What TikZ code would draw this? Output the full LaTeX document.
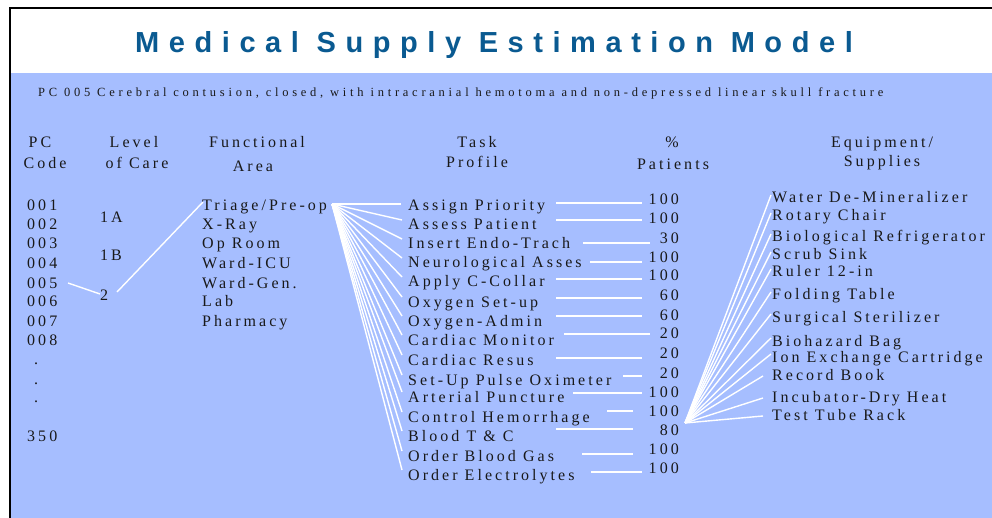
\documentclass[tikz,border=0pt]{standalone}
\usepackage{fontspec}
\setmainfont{Liberation Serif}
\newfontfamily\bodyfont[LetterSpace=19]{Liberation Serif}
\newfontfamily\subfont[LetterSpace=30]{Liberation Serif}
\newfontfamily\titlefont[LetterSpace=33]{Liberation Sans}
\definecolor{bgblue}{RGB}{166,190,255}
\definecolor{titleblue}{RGB}{10,90,145}
\definecolor{ink}{RGB}{25,25,25}
\begin{document}
\begin{tikzpicture}[x=1pt,y=-1pt,
  txt/.style={inner sep=0pt, font=\bodyfont\fontsize{16}{16}\selectfont, text=ink},
  lft/.style={txt, anchor=base west},
  ctr/.style={txt, anchor=base},
  rgt/.style={txt, anchor=base east},
  wire/.style={draw=white, line width=1.4pt}]
\useasboundingbox (0,0) rectangle (992,518);
\fill[white] (0,0) rectangle (992,518);
\fill[bgblue] (10,73) rectangle (992,518);
\draw[black, line width=2pt] (10,518) -- (10,8) -- (992,8);

% title and subtitle
\node[inner sep=0pt, anchor=base, text=titleblue, font=\titlefont\bfseries\fontsize{29}{29}\selectfont] (title) at (494,53) {Medical Supply Estimation Model};
\node[inner sep=0pt, anchor=base west, text=ink, font=\subfont\fontsize{12.5}{12.5}\selectfont] (sub) at (38,97) {PC 005 Cerebral contusion, closed, with intracranial hemotoma and non-depressed linear skull fracture};

% headers
\node[ctr] (h1a) at (40,148) {PC};
\node[ctr] (h1b) at (45,169) {Code};
\node[ctr] (h2a) at (134,148) {Level};
\node[ctr] (h2b) at (137,169) {of Care};
\node[ctr] (h3a) at (257,148) {Functional};
\node[ctr] (h3b) at (253,172) {Area};
\node[ctr] (h4a) at (477,148) {Task};
\node[ctr] (h4b) at (477,168) {Profile};
\node[ctr] (h5a) at (672,148) {\%};
\node[ctr] (h5b) at (673,170) {Patients};
\node[ctr] (h6a) at (882,148) {Equipment/};
\node[ctr] (h6b) at (882,167) {Supplies};

% PC codes
\foreach \y/\t [count=\i] in {211/001,230/002,249/003,269/004,288/005,306/006,326/007,345/008}
  \node[lft] (pc\i) at (27,\y) {\t};
\node[lft] (d1) at (34,364) {.};
\node[lft] (d2) at (34,384) {.};
\node[lft] (d3) at (34,402) {.};
\node[lft] (pc350) at (27,441) {350};

% level of care
\node[lft] (l1a) at (100,223) {1A};
\node[lft] (l1b) at (100,261) {1B};
\node[lft] (l2) at (100,301) {2};

% functional areas
\foreach \y/\t [count=\i] in {211/{Triage/Pre-op},230/X-Ray,249/Op Room,269/Ward-ICU,288/Ward-Gen.,306/Lab,326/Pharmacy}
  \node[lft] (f\i) at (202,\y) {\t};

% tasks
\foreach \y/\t [count=\i] in {211/Assign Priority,230/Assess Patient,249/Insert Endo-Trach,268/Neurological Asses,287/Apply C-Collar,307/Oxygen Set-up,326/Oxygen-Admin,345/Cardiac Monitor,365/Cardiac Resus,385/Set-Up Pulse Oximeter,402/Arterial Puncture,422/Control Hemorrhage,441/{Blood T \& C},461/Order Blood Gas,480/Order Electrolytes}
  \node[lft] (t\i) at (408,\y) {\t};

% percentages
\foreach \y/\t [count=\i] in {205/100,224/100,244/30,263/100,281/100,301/60,320/60,338/20,358/20,378/20,397/100,416/100,435/80,454/100,473/100}
  \node[rgt] (p\i) at (679,\y) {\t};

% equipment
\foreach \y/\t [count=\i] in {203/Water De-Mineralizer,221/Rotary Chair,242/Biological Refrigerator,260/Scrub Sink,277/Ruler 12-in,300/Folding Table,322/Surgical Sterilizer,346/Biohazard Bag,362/Ion Exchange Cartridge,380/Record Book,402/Incubator-Dry Heat,420/Test Tube Rack}
  \node[lft] (e\i) at (772,\y) {\t};

% connectors left
\coordinate (c5) at (68,283);
\coordinate (c2a) at (100,294);
\coordinate (c2b) at (117,292);
\coordinate (cf) at (203,202);
\draw[wire] (c5) -- (c2a);
\draw[wire] (c2b) -- (cf);

% fan from Triage/Pre-op to tasks
\coordinate (fl) at (332,204);
\draw[wire] (fl) -- ([shift={(-7,-7)}]t1.base west);
\foreach \i in {2,...,15}
  \draw[wire] (fl) -- ([shift={(-6,-10)}]t\i.base west);

% task to percentage lines
\foreach \i/\a/\b/\yy in {1/556/642/203,2/556/642/220,3/583/650/243,4/590/642/262,5/556/642/279,6/556/642/298,7/556/642/316,8/564/650/334,9/556/642/358,10/623/642/376,11/573/642/393,12/607/633/411,13/556/633/429,14/582/633/454,15/591/642/472}
  \draw[wire] (\a,\yy) coordinate (ls\i) -- (\b,\yy) coordinate (le\i);

% fan from 80 to equipment
\coordinate (fr) at (685,423);
\foreach \i in {1,...,9}
  \draw[wire] (fr) -- ([shift={(-1,-8)}]e\i.base west);
\foreach \i in {10,11,12}
  \draw[wire] (fr) -- ([shift={(-9,-4)}]e\i.base west);
\end{tikzpicture}
\end{document}
